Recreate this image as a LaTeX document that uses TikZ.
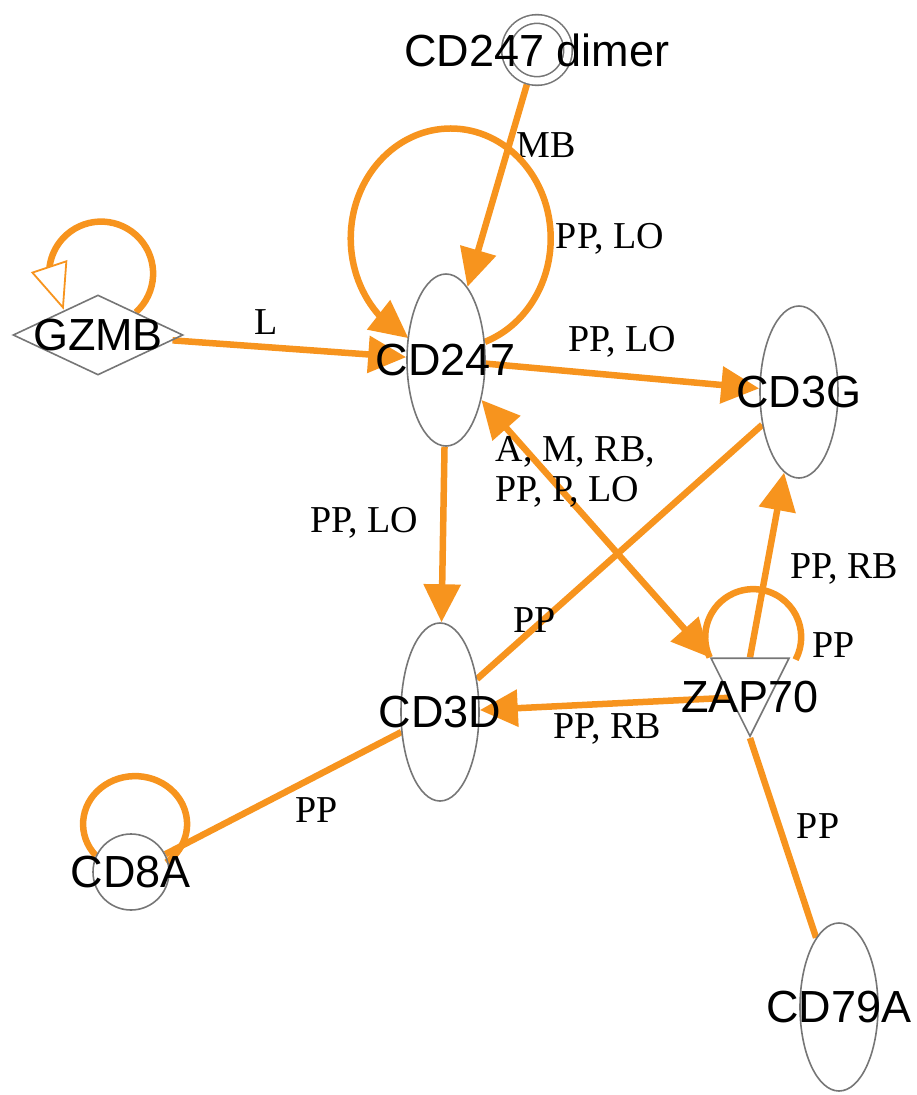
\documentclass[tikz,border=0pt]{standalone}
\usepackage{fontspec}
\setmainfont{Liberation Serif}
\newfontfamily\genefont{Liberation Sans}
\usetikzlibrary{positioning, arrows.meta, bending, shapes.geometric, backgrounds}

\definecolor{ipaorange}{RGB}{247,148,30}
\definecolor{nodegray}{RGB}{118,118,118}

\tikzset{
  gene/.style={ellipse, draw=nodegray, line width=1.6pt, inner sep=0pt, minimum width=78pt, minimum height=172pt},
  genetext/.style={font=\genefont\fontsize{45}{48}\selectfont, inner sep=0pt},
  rel/.style={draw=ipaorange, line width=6.5pt},
  lbl/.style={font=\fontsize{38}{40}\selectfont, inner sep=2pt, align=left},
}

\begin{document}
\begin{tikzpicture}[x=1pt, y=-1pt, >={Triangle[length=38pt, width=36pt, color=ipaorange, flex]}]
  \useasboundingbox (0,0) rectangle (917,1095);

  \node[circle, draw=nodegray, line width=1.6pt, double, double distance=7pt, minimum size=62pt, inner sep=0pt, outer sep=5pt, label={[genetext]center:CD247 dimer}] (dimer) at (537,50) {};
  \node[gene, label={[genetext]center:CD247}] (cd247) at (446,360) {};
  \node[diamond, draw=nodegray, line width=1.6pt, inner sep=0pt, minimum width=170pt, minimum height=80pt, label={[genetext]center:GZMB}] (gzmb) at (98,335) {};
  \node[gene, label={[genetext]center:CD3G}] (cd3g) at (799,392) {};
  \node[gene, minimum height=178pt, label={[genetext]center:CD3D}] (cd3d) at (440,712) {};
  \node[isosceles triangle, isosceles triangle apex angle=53.13, shape border rotate=270, draw=nodegray, line width=1.6pt, inner sep=0pt, minimum width=78pt, minimum height=78pt, anchor=apex, label={[genetext, anchor=center, yshift=41pt]-90:ZAP70}] (zap70) at (750,738) {};
  \node[circle, draw=nodegray, line width=1.6pt, inner sep=0pt, minimum size=76pt, label={[genetext]center:CD8A}] (cd8a) at (131,872) {};
  \node[gene, minimum height=168pt, label={[genetext]center:CD79A}] (cd79a) at (839,1007) {};

  \begin{scope}[on background layer, every edge/.style={rel}]
    \path[->]
      (dimer) edge node[lbl, pos=.3, xshift=37pt] {MB} (cd247)
      (gzmb) edge node[lbl, pos=.4, yshift=25pt] {L} (cd247)
      (cd247) edge node[lbl, pos=.5, yshift=34pt] {PP, LO} (cd3g)
      (cd247) edge node[lbl, pos=.435, xshift=-79pt] {PP, LO} (cd3d)
      (zap70.lower side) edge node[lbl, pos=.48, xshift=78pt] {PP, RB} (cd3g)
      (zap70.right side) edge node[lbl, pos=.49, yshift=-25pt] {PP, RB} (cd3d)
      (cd247) edge[<->] node[lbl, pos=.28, xshift=30pt] {A, M, RB,\\PP, P, LO} (zap70.right corner)
    ;
    \path
      (cd3g) edge node[lbl, pos=.77, xshift=-8pt] {PP} (cd3d)
      (cd3d) edge node[lbl, pos=.36, yshift=-34pt] {PP} (cd8a)
      (zap70.apex) edge node[lbl, pos=.44, xshift=39pt] {PP} (cd79a)
    ;
    % self loops
    \draw[rel, ->] (cd247.25) arc[start angle=70, end angle=0, x radius=100, y radius=110]
      node[lbl, right] {PP, LO} arc[start angle=0, end angle=-245, x radius=100, y radius=110];
    \draw[rel, -{Triangle[length=46pt, width=38pt, fill=white, line width=1.8pt, flex]}] (gzmb.31) arc[start angle=48, end angle=-224, radius=52];
    \draw[rel] (cd8a.155) arc[start angle=139, end angle=413, x radius=52, y radius=48];
    \draw[rel] (zap70.right corner) arc[start angle=155, end angle=360, radius=48]
      node[lbl, right=6pt, yshift=-8pt] {PP} arc[start angle=0, end angle=28, radius=48];
  \end{scope}
\end{tikzpicture}
\end{document}
